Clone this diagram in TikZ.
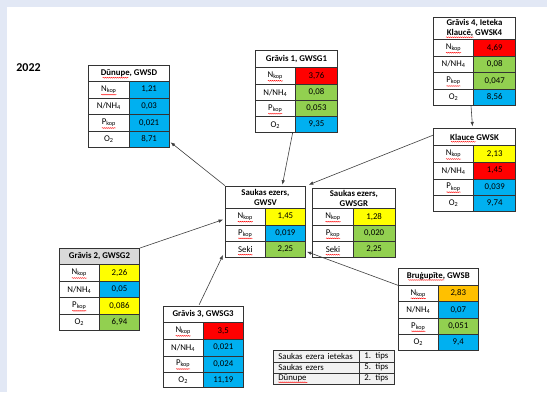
\documentclass[tikz,border=0pt]{standalone}
\usepackage{fontspec}
\setmainfont{Carlito}
\usetikzlibrary{arrows.meta,decorations.pathmorphing}
\definecolor{cred}{HTML}{FF0000}
\definecolor{cgreen}{HTML}{92D050}
\definecolor{cblue}{HTML}{00B0F0}
\definecolor{cyellow}{HTML}{FFFF00}
\definecolor{corange}{HTML}{FFC000}
\definecolor{hgray}{HTML}{D9D9D9}
\definecolor{lgray}{HTML}{F2F2F2}
\definecolor{bgblue}{HTML}{E2E8F5}
\tikzset{
 cellbox/.style={draw=black!80, line width=0.6pt, inner sep=0pt, font=\fontsize{8.8}{10}\selectfont, align=center},
 headbox/.style={font=\fontsize{8.8}{10}\selectfont\bfseries},
 legbox/.style={fill=lgray, align=left, inner xsep=5pt},
 conn/.style={draw=black!75, line width=0.6pt, -{Latex[length=4.5pt,width=3.5pt]}},
 sq/.style={draw=red, line width=0.4pt, decorate, decoration={snake, amplitude=0.45pt, segment length=2pt}},
}
\newcommand{\cellat}[7][]{\node[cellbox,#1,minimum width={(#5-#3)*1pt},minimum height={(#6-#4)*1pt}] (#2) at ({(#3+#5)/2},{(#4+#6)/2}) {#7};}
\newcommand{\drow}[9]{%
 \cellat{#1l}{#2}{#5}{#3}{#6}{#7}
 \cellat[fill=#8]{#1v}{#3}{#5}{#4}{#6}{#9}}
\newcommand{\Nkop}{N\textsubscript{kop}}
\newcommand{\Pkop}{P\textsubscript{kop}}
\newcommand{\NNH}{N/NH\textsubscript{4}}
\newcommand{\Ot}{O\textsubscript{2}}
\newcommand{\sqg}[2]{\draw[sq] ([xshift=-#2pt,yshift=-5pt]#1.center) -- ([xshift=#2pt,yshift=-5pt]#1.center);}
\begin{document}
\begin{tikzpicture}[x=1pt,y=-1pt]
\useasboundingbox (0,0) rectangle (547,392);
\fill[bgblue] (0,0) rectangle (547,392);
\fill[white] (7,7) rectangle (547,392);

\node[font=\fontsize{12}{14}\selectfont\bfseries] (yr) at (28.5,67.7) {2022};

% Dunupe
\cellat[headbox]{dh}{88.7}{65}{169.3}{81.3}{Dūnupe, GWSD}
\drow{d1}{88.7}{129}{169.3}{81.3}{98}{\Nkop}{cblue}{1,21}
\drow{d2}{88.7}{129}{169.3}{98}{114.7}{\NNH}{cblue}{0,03}
\drow{d3}{88.7}{129}{169.3}{114.7}{131.3}{\Pkop}{cblue}{0,021}
\drow{d4}{88.7}{129}{169.3}{131.3}{147}{\Ot}{cblue}{8,71}

% Gravis 1
\cellat[headbox]{g1h}{255.3}{50.7}{337.7}{67.3}{Grāvis 1, GWSG1}
\drow{ga1}{255.3}{295.3}{337.7}{67.3}{84.3}{\Nkop}{cred}{3,76}
\drow{ga2}{255.3}{295.3}{337.7}{84.3}{100.7}{\NNH}{cgreen}{0,08}
\drow{ga3}{255.3}{295.3}{337.7}{100.7}{116.7}{\Pkop}{cgreen}{0,053}
\drow{ga4}{255.3}{295.3}{337.7}{116.7}{132.7}{\Ot}{cblue}{9,35}

% Gravis 4
\cellat[headbox]{g4h}{433.3}{17.3}{515.7}{39.3}{Grāvis 4, Ieteka\\Klaucē, GWSK4}
\drow{gd1}{433.3}{473.7}{515.7}{39.3}{56}{\Nkop}{cred}{4,69}
\drow{gd2}{433.3}{473.7}{515.7}{56}{72.7}{\NNH}{cgreen}{0,08}
\drow{gd3}{433.3}{473.7}{515.7}{72.7}{89.3}{\Pkop}{cgreen}{0,047}
\drow{gd4}{433.3}{473.7}{515.7}{89.3}{105.3}{\Ot}{cblue}{8,56}

% Klauce
\cellat[headbox]{kh}{433.3}{128.7}{515.7}{145.7}{Klauce GWSK}
\drow{k1}{433.3}{473.7}{515.7}{145.7}{162.3}{\Nkop}{cyellow}{2,13}
\drow{k2}{433.3}{473.7}{515.7}{162.3}{179}{\NNH}{cred}{1,45}
\drow{k3}{433.3}{473.7}{515.7}{179}{195.3}{\Pkop}{cblue}{0,039}
\drow{k4}{433.3}{473.7}{515.7}{195.3}{211}{\Ot}{cblue}{9,74}

% Saukas ezers GWSV
\cellat[headbox]{svh}{225.3}{186}{305.5}{208.3}{Saukas ezers,\\GWSV}
\drow{sv1}{225.3}{265.3}{305.5}{208.3}{225}{\Nkop}{cyellow}{1,45}
\drow{sv2}{225.3}{265.3}{305.5}{225}{241.7}{\Pkop}{cblue}{0,019}
\drow{sv3}{225.3}{265.3}{305.5}{241.7}{257.7}{Seki}{cgreen}{2,25}

% Saukas ezers GWSGR
\cellat[headbox]{sgh}{312.7}{188.3}{395}{208.3}{Saukas ezers,\\GWSGR}
\drow{sg1}{312.7}{353.3}{395}{208.3}{225}{\Nkop}{cyellow}{1,28}
\drow{sg2}{312.7}{353.3}{395}{225}{241.7}{\Pkop}{cgreen}{0,020}
\drow{sg3}{312.7}{353.3}{395}{241.7}{257.7}{Seki}{cgreen}{2,25}

% Gravis 2
\cellat[headbox,fill=hgray]{g2h}{59.3}{248.3}{139.7}{264.3}{Grāvis 2, GWSG2}
\drow{gb1}{59.3}{99.3}{139.7}{264.3}{281.7}{\Nkop}{cyellow}{2,26}
\drow{gb2}{59.3}{99.3}{139.7}{281.7}{297.7}{\NNH}{cblue}{0,05}
\drow{gb3}{59.3}{99.3}{139.7}{297.7}{314}{\Pkop}{cyellow}{0,086}
\drow{gb4}{59.3}{99.3}{139.7}{314}{330}{\Ot}{cgreen}{6,94}

% Gravis 3
\cellat[headbox]{g3h}{163}{306}{243.3}{322.3}{Grāvis 3, GWSG3}
\drow{gc1}{163}{203.3}{243.3}{322.3}{339.3}{\Nkop}{cred}{3,5}
\drow{gc2}{163}{203.3}{243.3}{339.3}{356}{\NNH}{cblue}{0,021}
\drow{gc3}{163}{203.3}{243.3}{356}{372}{\Pkop}{cblue}{0,024}
\drow{gc4}{163}{203.3}{243.3}{372}{387.7}{\Ot}{cblue}{11,19}

% Brugupite
\cellat[headbox]{bh}{398.3}{268.3}{478.3}{285}{Bruģupīte, GWSB}
\drow{b1}{398.3}{438.3}{478.3}{285}{301.7}{\Nkop}{corange}{2,83}
\drow{b2}{398.3}{438.3}{478.3}{301.7}{318.3}{\NNH}{cblue}{0,07}
\drow{b3}{398.3}{438.3}{478.3}{318.3}{334.3}{\Pkop}{cgreen}{0,051}
\drow{b4}{398.3}{438.3}{478.3}{334.3}{350}{\Ot}{cblue}{9,4}

% Legend
\cellat[legbox,text width=76pt]{l1a}{273.3}{350}{359.3}{362}{Saukas ezera ietekas}
\cellat[legbox,text width=25pt]{l1b}{359.3}{350}{394.3}{362}{1. tips}
\cellat[legbox,text width=76pt]{l2a}{273.3}{362}{359.3}{373.3}{Saukas ezers}
\cellat[legbox,text width=25pt]{l2b}{359.3}{362}{394.3}{373.3}{5. tips}
\cellat[legbox,text width=76pt]{l3a}{273.3}{373.3}{359.3}{384}{Dūnupe}
\cellat[legbox,text width=25pt]{l3b}{359.3}{373.3}{394.3}{384}{2. tips}

% spell-check squiggles
\foreach \n in {d1l,ga1l,gd1l,k1l,sv1l,sg1l,gb1l,gc1l,b1l}{\sqg{\n}{7.5}}
\foreach \n in {d3l,ga3l,gd3l,k3l,sv2l,sg2l,gb3l,gc3l,b3l}{\sqg{\n}{7}}
\foreach \n in {sv3l,sg3l}{\sqg{\n}{7.2}}
\draw[sq] (102.7,77.7) -- (128.3,77.7);
\draw[sq] (451,141.7) -- (476,141.7);
\draw[sq] (446,37.3) -- (473.3,37.3);
\draw[sq] (408.3,280) -- (444.3,280);
\draw[sq] (278.3,382.3) -- (307.3,382.3);

% connectors
\draw[conn] (svh.north west) -- ([xshift=1pt,yshift=5pt]d4v.south east);
\draw[conn] ([xshift=-3pt]ga4l.south east) -- ([xshift=17pt,yshift=1pt]svh.north);
\draw[conn] ([yshift=2pt]kh.west) -- ([xshift=3pt,yshift=1pt]svh.north east);
\draw[conn] ([xshift=-3pt]gd4l.south east) -- ([xshift=-2pt,yshift=2pt]kh.north);
\draw[conn] (g2h.north east) -- ([xshift=-2pt,yshift=-3pt]sv1l.west);
\draw[conn] ([xshift=-4pt,yshift=1pt]g3h.north) -- ([xshift=-2pt,yshift=3pt]sv3l.south west);
\draw[conn] (bh.south west) -- ([xshift=1pt,yshift=-2pt]sv3v.east);
\end{tikzpicture}
\end{document}
